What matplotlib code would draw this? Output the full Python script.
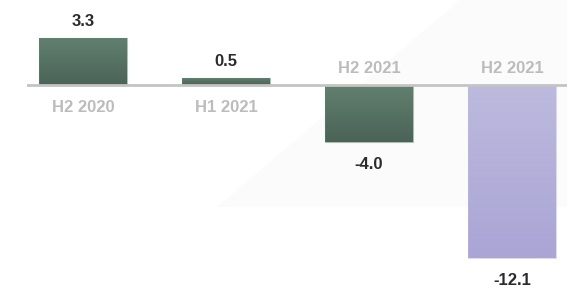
import numpy as np
import matplotlib.pyplot as plt
from matplotlib.patches import Polygon
from matplotlib.colors import LinearSegmentedColormap

periods = ["H2 2020", "H1 2021", "H2 2021", "H2 2021"]
values = [3.3, 0.5, -4.0, -12.1]
bar_colors = [("#62806f", "#4a6457"), ("#62806f", "#4a6457"),
              ("#62806f", "#4a6457"), ("#bdbade", "#aaa5d5")]

plt.rcParams['font.family'] = ['Liberation Sans', 'DejaVu Sans']

fig = plt.figure(figsize=(5.67, 2.88), dpi=100)
fig.patch.set_facecolor("white")

# faint background shape, behind everything
bg_ax = fig.add_axes([0, 0, 1, 1], zorder=0)
bg_ax.axis("off")
bg_ax.set_xlim(0, 1)
bg_ax.set_ylim(0, 1)
bg_ax.add_patch(Polygon([(460 / 567, 1), (1, 1), (1, 1 - 207 / 288), (217 / 567, 1 - 207 / 288)],
                        closed=True, facecolor="#fbfbfb", edgecolor="none"))

ax = fig.add_axes([27 / 567, 0, 1 - 27 / 567, 1], zorder=1)
ax.patch.set_alpha(0)
ax.set_xlim(-0.392, 3.385)
ax.set_ylim(-14.2, 5.94)
ax.axis("off")

x = np.arange(len(values))
width = 0.615
bars = ax.bar(x, values, width=width, color="none", edgecolor="none", zorder=2)

ymin, ymax = ax.get_ylim()
for bar, (c_top, c_bot) in zip(bars, bar_colors):
    cmap = LinearSegmentedColormap.from_list("g", [c_bot, c_top])
    x0 = bar.get_x()
    y0 = bar.get_y()
    h = bar.get_height()
    lo, hi = min(y0, y0 + h), max(y0, y0 + h)
    grad = np.linspace(0, 1, 100).reshape(-1, 1)
    im = ax.imshow(grad, cmap=cmap, aspect="auto", origin="lower",
                   extent=[x0, x0 + width, lo, hi], zorder=2)
    im.set_clip_path(bar)
    ax.add_patch(plt.Rectangle((x0, lo), width, hi - lo, fill=False,
                               edgecolor=c_top, linewidth=0.8, alpha=0.5, zorder=3))

ax.axhline(0, color="#c4c4c4", linewidth=2, zorder=4)

ax.set_xlim(-0.392, 3.385)
ax.set_ylim(ymin, ymax)

for xi, v, lab in zip(x, values, periods):
    if v >= 0:
        ax.annotate(f"{v:.1f}", (xi, v), xytext=(0, 11.5), textcoords="offset points",
                    ha="center", va="center", fontsize=12, fontweight="bold",
                    color="#2b2b2b")
        ax.annotate(lab, (xi, 0), xytext=(0, -16), textcoords="offset points",
                    ha="center", va="center", fontsize=12, fontweight="bold",
                    color="#bcbcbc")
    else:
        ax.annotate(f"{v:.1f}", (xi, v), xytext=(0, -16), textcoords="offset points",
                    ha="center", va="center", fontsize=12, fontweight="bold",
                    color="#2b2b2b")
        ax.annotate(lab, (xi, 0), xytext=(0, 12), textcoords="offset points",
                    ha="center", va="center", fontsize=12, fontweight="bold",
                    color="#bcbcbc")

fig.savefig("out.png", dpi=100)
